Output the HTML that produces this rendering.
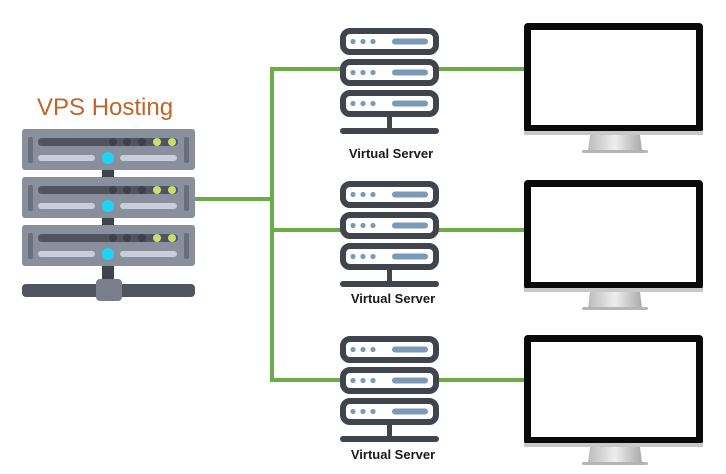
<!DOCTYPE html>
<html><head><meta charset="utf-8"><style>
html,body{margin:0;padding:0;background:#fff;}
svg{display:block;}
text{font-family:"Liberation Sans",sans-serif;}
</style></head><body>
<svg width="726" height="474" viewBox="0 0 726 474" xmlns="http://www.w3.org/2000/svg">
<defs>
<g id="vs">
  <g fill="#fff" stroke="#3f444d" stroke-width="6">
    <rect x="343" y="3" width="93" height="21" rx="7"/>
    <rect x="343" y="34" width="93" height="21" rx="7"/>
    <rect x="343" y="65" width="93" height="21" rx="7"/>
  </g>
  <g fill="#7b9ab8">
    <circle cx="353" cy="13.5" r="2.6"/><circle cx="363" cy="13.5" r="2.6"/><circle cx="373" cy="13.5" r="2.6"/>
    <rect x="392" y="10.5" width="36" height="6" rx="3"/>
    <circle cx="353" cy="44.5" r="2.6"/><circle cx="363" cy="44.5" r="2.6"/><circle cx="373" cy="44.5" r="2.6"/>
    <rect x="392" y="41.5" width="36" height="6" rx="3"/>
    <circle cx="353" cy="75.5" r="2.6"/><circle cx="363" cy="75.5" r="2.6"/><circle cx="373" cy="75.5" r="2.6"/>
    <rect x="392" y="72.5" width="36" height="6" rx="3"/>
  </g>
  <rect x="387" y="89" width="5" height="13" fill="#3f444d"/>
  <rect x="340" y="100" width="99" height="6" rx="3" fill="#3f444d"/>
</g>
<linearGradient id="st" x1="0" x2="1"><stop offset="0" stop-color="#bbb"/><stop offset="0.5" stop-color="#eee"/><stop offset="1" stop-color="#aaa"/></linearGradient>
<g id="mon">
  <rect x="524" y="0" width="179" height="110" rx="4" fill="#0a0a0a"/>
  <rect x="531" y="7" width="165" height="95" fill="#fff"/>
  <rect x="524" y="108" width="179" height="4" fill="#c8c8c8"/>
  <path d="M590 112 L640 112 L642 128 L588 128 Z" fill="url(#st)"/>
  <rect x="582" y="127" width="66" height="3" rx="1.5" fill="#b5b5b5"/>
</g>
<g id="lu">
  <rect x="22" y="0" width="173" height="41" rx="3" fill="#8a8f9e"/>
  <rect x="28" y="8" width="5" height="26" rx="2" fill="#6a6f7e"/>
  <rect x="184" y="8" width="5" height="26" rx="2" fill="#6a6f7e"/>
  <rect x="38" y="9" width="140" height="8" rx="4" fill="#50545f"/>
  <circle cx="113" cy="13" r="4" fill="#3d414b"/><circle cx="127" cy="13" r="4" fill="#3d414b"/><circle cx="142" cy="13" r="4" fill="#3d414b"/>
  <circle cx="157" cy="13" r="4" fill="#c6de74"/><circle cx="172" cy="13" r="4" fill="#c6de74"/>
  <rect x="38" y="26" width="57" height="6" rx="3" fill="#c9ceda"/>
  <rect x="120" y="26" width="57" height="6" rx="3" fill="#c9ceda"/>
  <circle cx="108" cy="29" r="6" fill="#1fd3f7"/>
</g>
</defs>

<text x="37" y="115" font-size="24" fill="#c0652a">VPS Hosting</text>
<rect x="102" y="165" width="12" height="120" fill="#3f434c"/>
<use href="#lu" y="129"/>
<use href="#lu" y="177"/>
<use href="#lu" y="225"/>
<rect x="22" y="284" width="173" height="13" rx="4" fill="#50545f"/>
<rect x="96" y="279" width="26" height="22" rx="4" fill="#7a7e8a"/>

<g stroke="#6aac45" stroke-width="4" fill="none">
  <path d="M195 199 H272"/>
  <path d="M272 67 V382"/>
  <path d="M272 69 H525"/>
  <path d="M272 230 H525"/>
  <path d="M272 380 H525"/>
</g>

<use href="#vs" y="28"/>
<use href="#vs" y="181"/>
<use href="#vs" y="336"/>
<use href="#mon" y="23"/>
<use href="#mon" y="180"/>
<use href="#mon" y="335"/>

<g font-size="13" font-weight="bold" fill="#1a1a1a" text-anchor="middle">
  <text x="391" y="158">Virtual Server</text>
  <text x="393" y="303">Virtual Server</text>
  <text x="393" y="459">Virtual Server</text>
</g>
</svg>
</body></html>
